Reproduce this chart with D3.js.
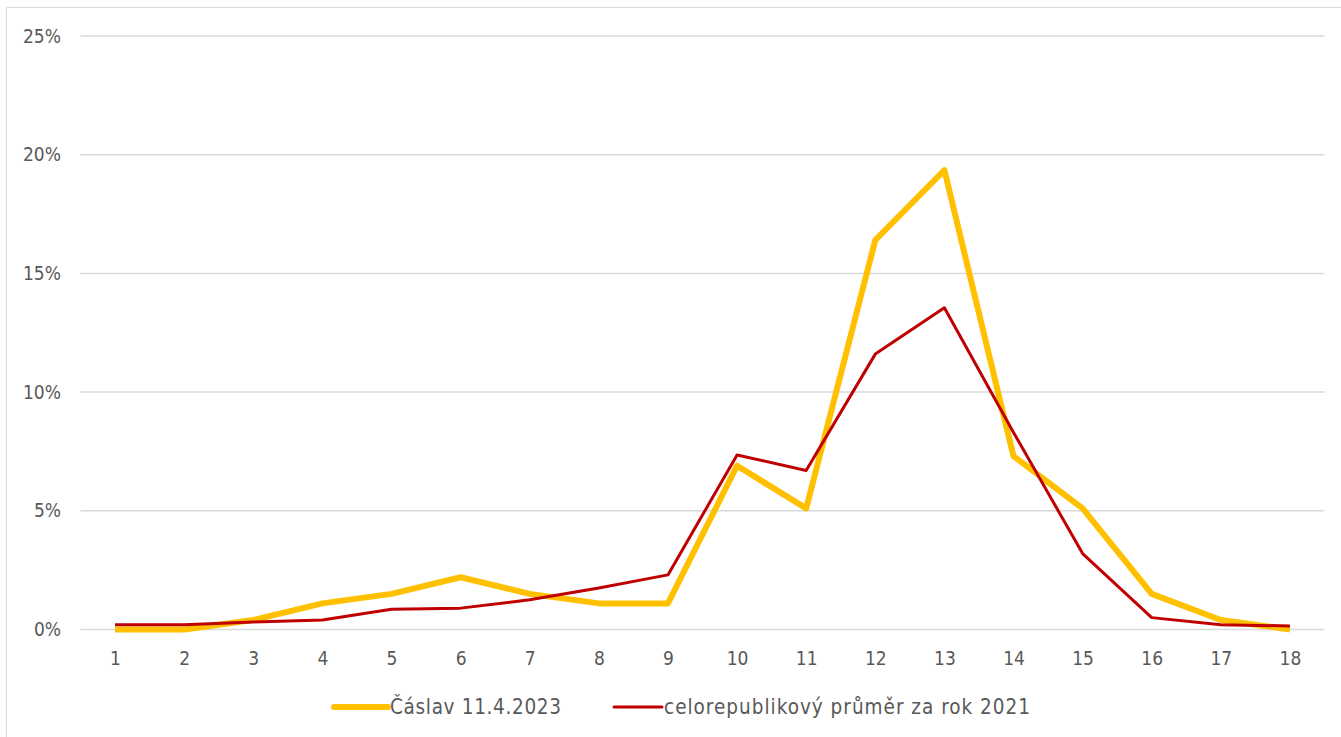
<!DOCTYPE html>
<html>
<head>
<meta charset="utf-8">
<script src="https://cdn.jsdelivr.net/npm/d3@7"></script>
<style>
html,body{margin:0;padding:0;background:#fff;}
svg{display:block;}
text{font-family:"DejaVu Sans Condensed","DejaVu Sans",sans-serif;fill:#595959;}
</style>
</head>
<body>
<svg id="chart" width="1341" height="737"></svg>
<script>
const categories = ["1","2","3","4","5","6","7","8","9","10","11","12","13","14","15","16","17","18"];
const caslav = [0.0, 0.0, 0.4, 1.1, 1.5, 2.2, 1.5, 1.1, 1.1, 6.9, 5.1, 16.4, 19.35, 7.3, 5.1, 1.5, 0.4, 0.0];
const prumer = [0.2, 0.2, 0.32, 0.4, 0.85, 0.9, 1.25, 1.75, 2.3, 7.35, 6.7, 11.6, 13.55, 8.3, 3.2, 0.5, 0.2, 0.15];
const yTicks = [0, 5, 10, 15, 20, 25];
const seriesNames = ["Čáslav 11.4.2023", "celorepublikový průměr za rok 2021"];

const svg = d3.select("#chart");
svg.append("rect").attr("width",1341).attr("height",737).attr("fill","#fff");

// chart border
svg.append("path").attr("d","M6.5,737 V7.5 H1341").attr("fill","none").attr("stroke","#d9d9d9").attr("stroke-width",1);

const x = d3.scalePoint().domain(categories).range([80.5,1324.5]).padding(0.5);
const y = d3.scaleLinear().domain([0,25]).range([629.5,36]);

// gridlines
svg.append("g").selectAll("line").data(yTicks).join("line")
  .attr("x1",80.5).attr("x2",1324.5)
  .attr("y1",d=>y(d)).attr("y2",d=>y(d))
  .attr("stroke","#d9d9d9").attr("stroke-width",1.5);

// y axis labels
const yAxis = d3.axisLeft(y).tickValues(yTicks).tickFormat(d=>d+"%").tickSize(0).tickPadding(0);
const ya = svg.append("g").attr("transform","translate(61,0)").call(yAxis);
ya.select(".domain").remove();
ya.selectAll("text").attr("font-size",19).attr("fill","#595959").style("font-family",'"DejaVu Sans Condensed","DejaVu Sans",sans-serif');

// x axis labels
const xAxis = d3.axisBottom(x).tickSize(0).tickPadding(0);
const xa = svg.append("g").attr("transform","translate(0,651)").call(xAxis);
xa.select(".domain").remove();
xa.selectAll("text").attr("font-size",19).attr("fill","#595959").attr("dy","0.71em").style("font-family",'"DejaVu Sans Condensed","DejaVu Sans",sans-serif');

const line = d3.line().x((d,i)=>x(categories[i])).y(d=>y(d));

svg.append("path").datum(caslav).attr("d",line)
  .attr("fill","none").attr("stroke","#FFC000").attr("stroke-width",6)
  .attr("stroke-linejoin","round").attr("stroke-linecap","butt");
svg.append("path").datum(prumer).attr("d",line)
  .attr("fill","none").attr("stroke","#C00000").attr("stroke-width",3)
  .attr("stroke-linejoin","round").attr("stroke-linecap","butt");

// legend
const legend = [
  {name: seriesNames[0], color:"#FFC000", w:6, x1:334, x2:388, tl:171},
  {name: seriesNames[1], color:"#C00000", w:3, x1:614, x2:662, tl:366}
];
const lg = svg.append("g");
legend.forEach(l=>{
  lg.append("line").attr("x1",l.x1).attr("x2",l.x2).attr("y1",707).attr("y2",707)
    .attr("stroke",l.color).attr("stroke-width",l.w).attr("stroke-linecap","round");
  lg.append("text").attr("x",l.x2+2).attr("y",707).attr("dy","0.36em")
    .attr("font-size",20.5).attr("textLength",l.tl).attr("lengthAdjust","spacing").text(l.name);
});
</script>
</body>
</html>
